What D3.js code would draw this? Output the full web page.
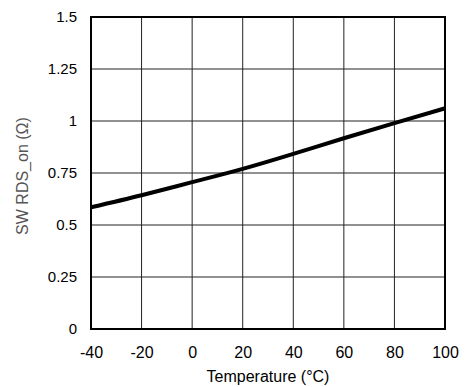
<!DOCTYPE html>
<html>
<head>
<meta charset="utf-8">
<script src="https://cdn.jsdelivr.net/npm/d3@7"></script>
<style>
    body { margin: 0; background: #fff; }
    text { font-family: "Liberation Sans", Arial, sans-serif; }
</style>
</head>
<body>
<svg width="465" height="387"></svg>
<script>
// chart data
var temps = [-40, -20, 0, 20, 40, 60, 80, 100];
var rdsOn = [0.585, 0.643, 0.706, 0.77, 0.842, 0.917, 0.99, 1.061];
var xTicks = [-40, -20, 0, 20, 40, 60, 80, 100];
var yTicks = [0, 0.25, 0.5, 0.75, 1, 1.25, 1.5];
var yTickLabels = ['0', '0.25', '0.5', '0.75', '1', '1.25', '1.5'];

var svg = d3.select('svg');
var plotLeft = 91, plotRight = 445, plotTop = 17, plotBottom = 329;

//scales
var xScale = d3.scaleLinear().domain([-40, 100]).range([plotLeft, plotRight]);
var yScale = d3.scaleLinear().domain([0, 1.5]).range([plotBottom, plotTop]);

//grid lines
svg.append('g')
    .selectAll('line')
    .data(xTicks.slice(1, -1))
    .enter().append('line')
    .attr('x1', d => xScale(d)).attr('x2', d => xScale(d))
    .attr('y1', plotTop).attr('y2', plotBottom)
    .style('stroke', '#222').style('stroke-width', 1);

svg.append('g')
    .selectAll('line')
    .data(yTicks.slice(1, -1))
    .enter().append('line')
    .attr('x1', plotLeft).attr('x2', plotRight)
    .attr('y1', d => yScale(d)).attr('y2', d => yScale(d))
    .style('stroke', '#222').style('stroke-width', 1);

//frame
svg.append('rect')
    .attr('x', plotLeft).attr('y', plotTop)
    .attr('width', plotRight - plotLeft).attr('height', plotBottom - plotTop)
    .style('fill', 'none').style('stroke', '#000').style('stroke-width', 2);

//x-axis labels
var xAxis = d3.axisBottom(xScale)
    .tickValues(xTicks)
    .tickSize(0)
    .tickPadding(18)
    .tickFormat(d => String(d));

svg.append('g')
    .attr('transform', 'translate(0,' + plotBottom + ')')
    .call(xAxis)
    .call(g => g.select('.domain').remove())
    .selectAll('text')
    .style('font-size', '16px').style('fill', '#000')
    .style('font-family', '"Liberation Sans", Arial, sans-serif');

//y-axis labels
var yAxis = d3.axisLeft(yScale)
    .tickValues(yTicks)
    .tickSize(0)
    .tickPadding(14)
    .tickFormat((d, i) => yTickLabels[i]);

svg.append('g')
    .attr('transform', 'translate(' + plotLeft + ',0)')
    .call(yAxis)
    .call(g => g.select('.domain').remove())
    .selectAll('text')
    .style('font-size', '15px').style('fill', '#000')
    .style('font-family', '"Liberation Sans", Arial, sans-serif');

//curve
var line = d3.line()
    .x((d, i) => xScale(temps[i]))
    .y(d => yScale(d))
    .curve(d3.curveNatural);

svg.append('path')
    .datum(rdsOn)
    .attr('d', line)
    .style('fill', 'none')
    .style('stroke', '#000')
    .style('stroke-width', 4);

//axis titles
svg.append('text')
    .attr('transform', 'translate(268,382)')
    .attr('text-anchor', 'middle')
    .style('font-size', '16px')
    .text('Temperature (°C)');

svg.append('text')
    .attr('transform', 'translate(28,176) rotate(-90)')
    .attr('text-anchor', 'middle')
    .style('font-size', '16px')
    .style('fill', '#555')
    .text('SW RDS_on (Ω)');
</script>
</body>
</html>
